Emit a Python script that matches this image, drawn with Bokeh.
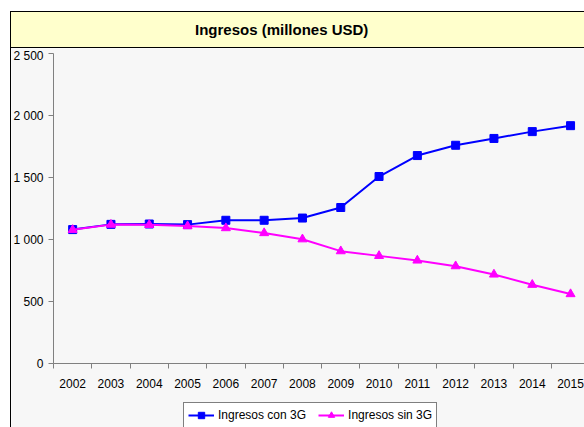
from bokeh.plotting import figure
from bokeh.models import FixedTicker, Range1d, Legend, LegendItem, Div
from bokeh.layouts import column, row
from bokeh.embed import file_html
from bokeh.resources import INLINE

# ---- data ----
years = [2002, 2003, 2004, 2005, 2006, 2007, 2008, 2009, 2010, 2011, 2012, 2013, 2014, 2015]
con_3g = [1080, 1122, 1125, 1120, 1155, 1155, 1173, 1258, 1508, 1677, 1760, 1815, 1870, 1918]
sin_3g = [1078, 1120, 1118, 1108, 1092, 1052, 1002, 906, 868, 831, 785, 718, 635, 560]
y_ticks = [0, 500, 1000, 1500, 2000, 2500]
y_tick_labels = ["0", "500", "1 000", "1 500", "2 000", "2 500"]
title_text = "Ingresos (millones USD)"
series_names = ["Ingresos con 3G", "Ingresos sin 3G"]

FONT = "Liberation Sans"
BG = "#f7f7f7"
AXIS = "#808080"

# layout geometry (pixels)
PLOT_H = 310          # height of the 0..2500 value band
ABOVE_H = 5           # space over the value band
BELOW_H = 64          # space under the value band for tick labels and legend
FRAME_W = 573         # drawing area width
LEFT_PAD = 42         # space left of the value axis for its labels
SLOT_W = 38.3         # width of one year slot

title_div = Div(
    text=(
        '<div style="padding:11px 0 0 10px; margin:0; background:#ffffff;">'
        '<div style="box-sizing:border-box; width:574px; height:37px; margin:0; '
        'background:#ffffcc; border:1px solid #000; border-right:none; '
        "font-family:'Liberation Sans', Arial, sans-serif; font-weight:bold; font-size:15px; "
        'line-height:36px; padding-left:184px; white-space:nowrap; color:#000;">'
        + title_text + "</div></div>"
    ),
    width=584, height=48, margin=(0, 0, 0, 0),
)

line_div = Div(
    text='<div style="box-sizing:content-box; width:10px; height:379px; margin:0; '
         'background:#ffffff; border-right:1px solid #000;"></div>',
    width=11, height=379, margin=(0, 0, 0, 0),
)

span = y_ticks[-1] - y_ticks[0]
y_top = y_ticks[-1] + span * ABOVE_H / PLOT_H
y_bottom = y_ticks[0] - span * BELOW_H / PLOT_H
x_axis_start = years[0] - 0.5
x_left = x_axis_start - LEFT_PAD / SLOT_W
x_right = x_left + FRAME_W / SLOT_W

p = figure(
    frame_width=FRAME_W, frame_height=ABOVE_H + PLOT_H + BELOW_H,
    min_border_left=0, min_border_right=0, min_border_top=0, min_border_bottom=0,
    x_range=Range1d(x_left, x_right),
    y_range=Range1d(y_bottom, y_top),
    output_backend="svg", toolbar_location=None,
    background_fill_color=BG, border_fill_color=BG, outline_line_color=None,
    margin=(0, 0, 0, 0),
)
p.xgrid.grid_line_color = None
p.ygrid.grid_line_color = None

# y axis at the start of the year slots
p.yaxis.fixed_location = x_axis_start
p.yaxis.ticker = FixedTicker(ticks=y_ticks, minor_ticks=[])
p.yaxis.bounds = (y_ticks[0], y_ticks[-1])
p.yaxis.major_label_overrides = {float(t): l for t, l in zip(y_ticks, y_tick_labels)}
p.yaxis.axis_line_color = AXIS
p.yaxis.major_tick_line_color = AXIS
p.yaxis.major_tick_out = 5
p.yaxis.major_tick_in = 0
p.yaxis.minor_tick_line_color = None
p.yaxis.major_label_standoff = 5
p.yaxis.major_label_text_font = FONT
p.yaxis.major_label_text_font_size = "12px"
p.yaxis.major_label_text_color = "#000000"

# x axis at value 0: labels at years, ticks between categories
p.xaxis.fixed_location = y_ticks[0]
p.xaxis.bounds = (x_axis_start, years[-1] + 0.5)
p.xaxis.ticker = FixedTicker(
    ticks=years,
    minor_ticks=[y - 0.5 for y in years] + [years[-1] + 0.5],
)
p.xaxis.axis_line_color = AXIS
p.xaxis.major_tick_line_color = None
p.xaxis.major_tick_out = 4
p.xaxis.major_tick_in = 0
p.xaxis.minor_tick_line_color = AXIS
p.xaxis.minor_tick_out = 5
p.xaxis.minor_tick_in = 0
p.xaxis.major_label_standoff = 10
p.xaxis.major_label_text_font = FONT
p.xaxis.major_label_text_font_size = "12px"
p.xaxis.major_label_text_color = "#000000"

# series
l1 = p.line(years, con_3g, line_color="#0000ff", line_width=2)
m1 = p.scatter(years, con_3g, marker="square", size=8, fill_color="#0000ff", line_color="#0000ff")
l2 = p.line(years, sin_3g, line_color="#ff00ff", line_width=2)
m2 = p.scatter(years, sin_3g, marker="triangle", size=9, fill_color="#ff00ff", line_color="#ff00ff")

legend = Legend(
    items=[
        LegendItem(label=series_names[0], renderers=[l1, m1]),
        LegendItem(label=series_names[1], renderers=[l2, m2]),
    ],
    orientation="horizontal",
    location=(172, -1),
    border_line_color="#000000",
    border_line_width=1,
    background_fill_color="#ffffff",
    background_fill_alpha=1.0,
    label_text_font=FONT,
    label_text_font_size="12px",
    label_text_color="#000000",
    glyph_width=26, glyph_height=16, label_height=16,
    label_standoff=4, spacing=12, padding=4, margin=0,
)
p.add_layout(legend, "center")

layout = column(title_div, row(line_div, p, spacing=0), spacing=0)

open("out.html", "w").write(file_html(layout, INLINE))
